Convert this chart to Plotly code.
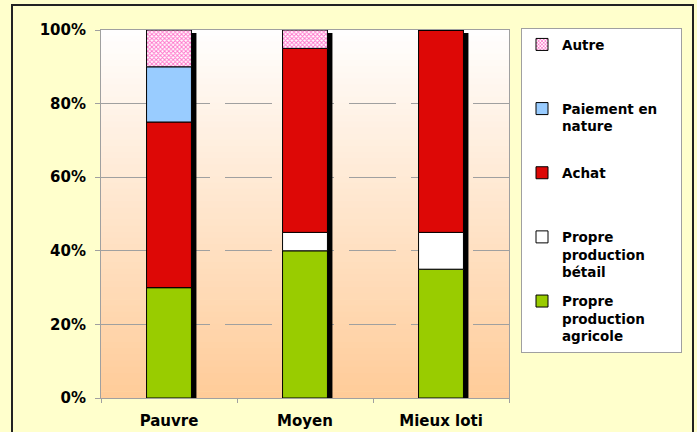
import numpy as np
import plotly.graph_objects as go

categories = ["Pauvre", "Moyen", "Mieux loti"]
agricole = [30, 40, 35]
betail = [0, 5, 10]
achat = [45, 50, 55]
paiement = [15, 0, 0]
autre = [10, 5, 0]
ytickvals = [0, 20, 40, 60, 80, 100]
yticktext = ["0%", "20%", "40%", "60%", "80%", "100%"]

series = [
    ("Propre<br>production<br>agricole", agricole, "#99CC00", None),
    ("Propre<br>production<br>bétail", betail, "#FFFFFF", None),
    ("Achat<br> <br> ", achat, "#DD0806", None),
    ("Paiement en\u00a0\u00a0\u00a0\u00a0<br>nature<br> ", paiement, "#99CCFF", None),
    ("Autre<br> <br> ", autre, "#FFFFFF", "x"),
]

FONT = "DejaVu Sans"
BW = 0.33
SHIFT = 5 / 136.0

fig = go.Figure()

totals = np.sum([agricole, betail, achat, paiement, autre], axis=0)
# shadow
fig.add_trace(go.Bar(
    x=categories, y=totals - 0.8, base=0, width=BW, offset=-BW / 2 + SHIFT,
    marker=dict(color="#000000", line=dict(width=0)), showlegend=False, hoverinfo="skip",
))

base = np.zeros(len(categories))
for i, (name, vals, col, pat) in enumerate(series):
    marker = dict(color=col, line=dict(color="#000000", width=1))
    if pat:
        marker["pattern"] = dict(shape=pat, fgcolor="#FF77CC", bgcolor="#FFFFFF",
                                 size=3, solidity=0.55, fillmode="replace")
    fig.add_trace(go.Bar(
        x=categories, y=vals, base=base.copy(), width=BW, offset=-BW / 2,
        name=name, marker=marker, legendgroup=f"g{i}", legendrank=1000 - i,
    ))
    base = base + np.array(vals)

# gradient background bands
shapes = []
n = 60
top = np.array([255, 255, 255])
bot = np.array([255, 204, 153])
for k in range(n):
    t = (k + 0.5) / n
    c = top + (bot - top) * t
    shapes.append(dict(type="rect", xref="x domain", yref="y domain",
                       x0=0, x1=1, y0=1 - (k + 1) / n, y1=1 - k / n + 0.002,
                       fillcolor=f"rgb({int(c[0])},{int(c[1])},{int(c[2])})",
                       line=dict(width=0), layer="below"))
# outer frame
shapes.append(dict(type="rect", xref="paper", yref="paper",
                   x0=(12 - 101) / 408, x1=(693 - 101) / 408,
                   y0=-0.12, y1=1 + 25 / 368,
                   line=dict(color="#222222", width=2), fillcolor="rgba(0,0,0,0)",
                   layer="below"))

fig.update_layout(
    width=697, height=432,
    margin=dict(l=101, r=188, t=30, b=34),
    paper_bgcolor="#FFFFCC",
    plot_bgcolor="rgba(0,0,0,0)",
    barmode="overlay",
    shapes=shapes,
    font=dict(family=FONT, size=14, color="#000000", weight="bold"),
    legend=dict(
        x=(521 - 101) / 408, y=1.005, xanchor="left", yanchor="top",
        bgcolor="#FFFFFF", bordercolor="#A0A0A0", borderwidth=1,
        traceorder="grouped", tracegroupgap=8.5, valign="top",
        font=dict(family=FONT, size=13.5, color="#000000", weight="bold"),
        itemclick=False, maxheight=420,
    ),
    xaxis=dict(
        type="category", tickson="boundaries", ticks="outside", ticklen=4,
        tickcolor="#A0A0A0", showline=True, linecolor="#A0A0A0", linewidth=1,
        mirror=True, showgrid=False, range=[-0.5, 2.5], ticklabelstandoff=9,
        automargin=False,
        tickfont=dict(family=FONT, size=15, weight="bold"),
    ),
    yaxis=dict(
        range=[0, 100], tickmode="array", tickvals=ytickvals, ticktext=yticktext,
        ticks="outside", ticklen=5, tickcolor="#A0A0A0",
        showline=True, linecolor="#A0A0A0", linewidth=1, mirror=True,
        showgrid=True, gridcolor="#A0A0A0", gridwidth=1, griddash="47px,15px",
        zeroline=False, ticklabelstandoff=6, automargin=False,
        tickfont=dict(family=FONT, size=15, weight="bold"),
    ),
)

fig.write_html("out.html")
